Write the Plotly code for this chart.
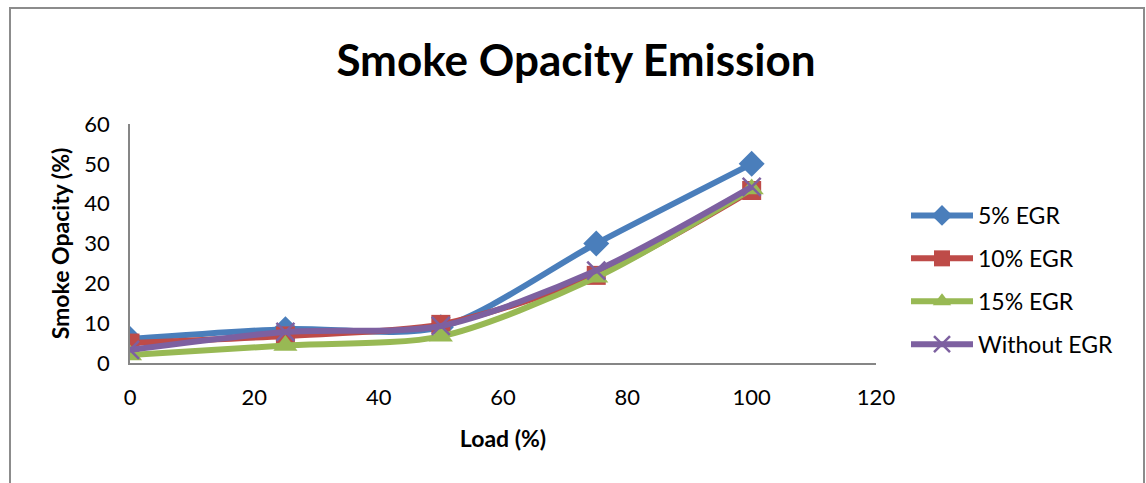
import plotly.graph_objects as go

# Engine load (%)
load = [0, 25, 50, 75, 100]

# Smoke opacity (%) per EGR rate
egr_5 = [6, 8.5, 9, 30, 50]
egr_10 = [5, 6.8, 9.7, 22, 43.3]
egr_15 = [2, 4.4, 6.7, 21.5, 43.7]
without_egr = [3.3, 7.8, 9.3, 23.2, 44.2]

series = [
    ("5% EGR", egr_5, "#4A7EBB", "diamond", 20),
    ("10% EGR", egr_10, "#BE4B48", "square", 19),
    ("15% EGR", egr_15, "#98B954", "triangle-up", 21),
    ("Without EGR", without_egr, "#7D60A0", "x-thin", 18),
]

W, H = 1146, 483
L, R, T, B = 130, 270, 124, 120
pw, ph = W - L - R, H - T - B

fig = go.Figure()
for i, (name, vals, color, sym, size) in enumerate(series):
    marker = dict(symbol=sym, size=size, color=color)
    if sym == "x-thin":
        marker["line"] = dict(color=color, width=2.5)
    fig.add_trace(go.Scatter(
        x=load, y=vals, name=name, mode="lines+markers",
        line=dict(color=color, width=6, shape="spline", smoothing=0.8),
        marker=marker, legendgroup=f"g{i}",
    ))

font = "Lato, 'Open Sans', sans-serif"


def px_to_paper_x(px):
    return (px - L) / pw


def px_to_paper_y(py):
    return (H - B - py) / ph


# outer chart frame (bottom edge falls below the page)
fig.add_shape(
    type="rect", xref="paper", yref="paper",
    x0=px_to_paper_x(10), x1=px_to_paper_x(1144),
    y0=px_to_paper_y(500), y1=px_to_paper_y(8),
    line=dict(color="#8C8C8C", width=2), fillcolor="rgba(0,0,0,0)", layer="below",
)

fig.update_layout(
    width=W, height=H,
    margin=dict(l=L, r=R, t=T, b=B),
    paper_bgcolor="white", plot_bgcolor="white",
    font=dict(family=font, color="black"),
    title=dict(
        text="<b>Smoke Opacity Emission</b>",
        x=576 / W, xanchor="center", y=1 - 61 / H, yanchor="middle",
        font=dict(size=44, family=font, color="black"),
    ),
    xaxis=dict(
        range=[0, 120], tickvals=[0, 20, 40, 60, 80, 100, 120],
        showgrid=False, zeroline=False, showline=True,
        linecolor="#868686", linewidth=1.5, ticks="",
        tickfont=dict(size=22), ticklabelstandoff=14,
        title=dict(text="<b>Load (%)</b>", font=dict(size=23), standoff=22),
    ),
    yaxis=dict(
        range=[0, 60], tickvals=[0, 10, 20, 30, 40, 50, 60],
        showgrid=False, zeroline=False, showline=True,
        linecolor="#868686", linewidth=1.5, ticks="",
        tickfont=dict(size=22), ticklabelstandoff=14,
        title=dict(text="<b>Smoke Opacity (%)</b>", font=dict(size=23), standoff=8),
    ),
    legend=dict(
        x=px_to_paper_x(906), xanchor="left",
        y=px_to_paper_y(194), yanchor="top",
        font=dict(size=23), itemwidth=62,
        tracegroupgap=10, bgcolor="rgba(0,0,0,0)",
    ),
    showlegend=True,
)

fig.write_html("out.html")
